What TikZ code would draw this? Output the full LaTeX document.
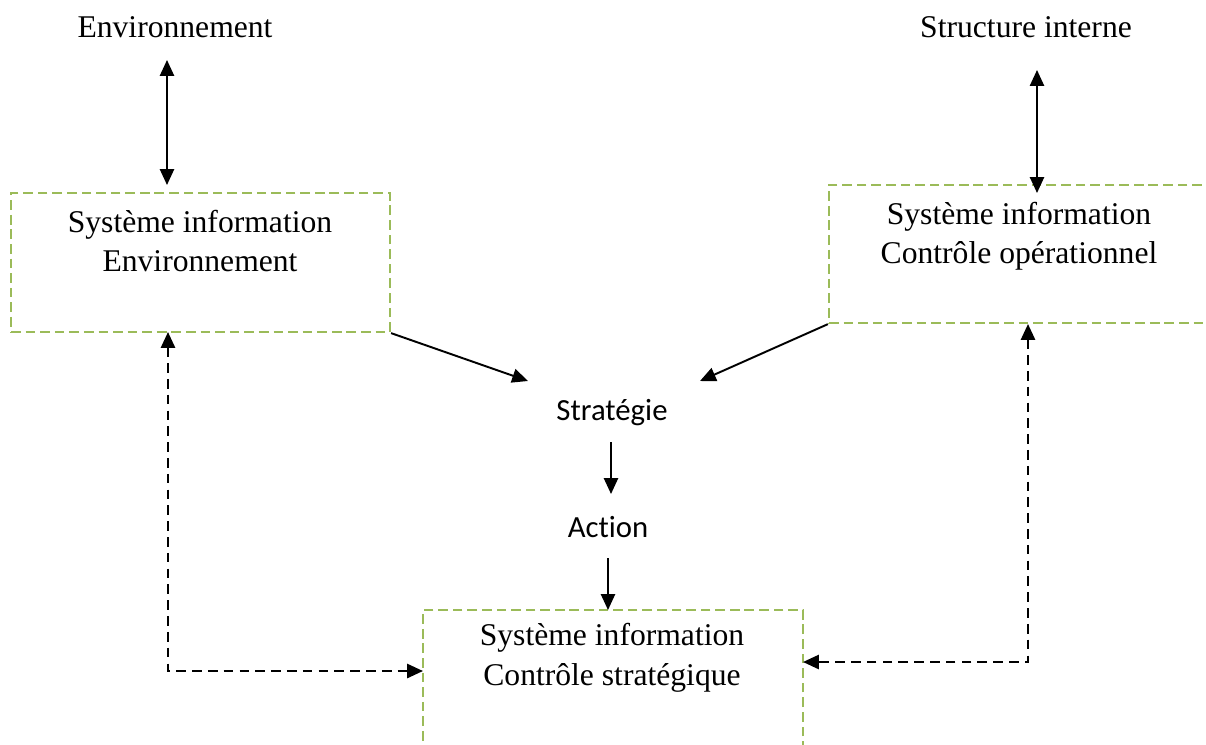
\documentclass[tikz,border=0pt]{standalone}
\usepackage{fontspec}
\setmainfont{Liberation Serif}
\newfontfamily\calibfont[Ligatures=NoCommon]{Carlito}
\usetikzlibrary{arrows.meta}
\definecolor{boxgreen}{HTML}{9BBB59}
\begin{document}
\begin{tikzpicture}[x=0.02cm,y=-0.02cm,
  sysbox/.style={draw=boxgreen,line width=1.3pt,dash pattern=on 5.5pt off 2.8pt,
    minimum width=7.6cm,minimum height=2.78cm,inner sep=0pt},
  serifText/.style={font=\fontsize{18}{22.5}\selectfont,align=center,inner sep=0pt},
  sansText/.style={font=\calibfont\fontsize{17.5}{21}\selectfont,inner sep=0pt},
  tip/.style={Triangle[length=9pt,width=8pt]},
  arr/.style={line width=1.1pt,-{Triangle[length=9pt,width=8pt]}},
  dblarr/.style={line width=1.1pt,{Triangle[length=9pt,width=8pt]}-{Triangle[length=9pt,width=8pt]}},
  dasharr/.style={line width=1.3pt,dash pattern=on 5.5pt off 3.5pt,
    {Triangle[length=9pt,width=8pt]}-{Triangle[length=9pt,width=8pt]}}]
\useasboundingbox (0,0) rectangle (1206,744);
\clip (0,0) rectangle (1206,744);

% top labels
\node[serifText] (env) at (175,27) {Environnement};
\node[serifText] (struct) at (1026,27) {Structure interne};

% information-system boxes
\node[sysbox,minimum width=7.58cm] (lbox) at (200.5,262.5) {};
\node[sysbox,minimum height=2.76cm] (rbox) at (1019,254) {};
\node[sysbox,minimum height=2.8cm] (bbox) at (613,680) {};

\node[serifText] (ltext) at (200,241) {Système information\\Environnement};
\node[serifText] (rtext) at (1019,236) {Système information\\Contrôle opérationnel};
\node[serifText] (btext) at (612,658) {Système information\\Contrôle stratégique};

% central chain
\node[sansText] (strat) at (612,413) {Stratégie};
\node[sansText] (action) at (608,527) {Action};

% connector end points
\coordinate (envtop) at (167,60);
\coordinate (envbot) at (167,185);
\coordinate (strtop) at (1037,70);
\coordinate (strbot) at (1037,193);
\coordinate (stratL) at (528,381);
\coordinate (stratR) at (700,381);
\coordinate (stratB) at (611,442);
\coordinate (actT) at (611,494);
\coordinate (actB) at (608,558);
\coordinate (bboxT) at (608,610);
\coordinate (lcorner) at (168,671);
\coordinate (ltip) at (168,332);
\coordinate (bleft) at (423,671);
\coordinate (rcorner) at (1028,662);
\coordinate (rtip) at (1028,324);
\coordinate (bright) at (803,662);

% connectors
\draw[dblarr] (envtop) -- (envbot);
\draw[dblarr] (strtop) -- (strbot);
\draw[arr] (lbox.south east) -- (stratL);
\draw[arr] (rbox.south west) -- (stratR);
\draw[arr] (stratB) -- (actT);
\draw[arr] (actB) -- (bboxT);
\draw[dasharr] (ltip) -- (lcorner) -- (bleft);
\draw[dasharr] (rtip) -- (rcorner) -- (bright);
\end{tikzpicture}
\end{document}
